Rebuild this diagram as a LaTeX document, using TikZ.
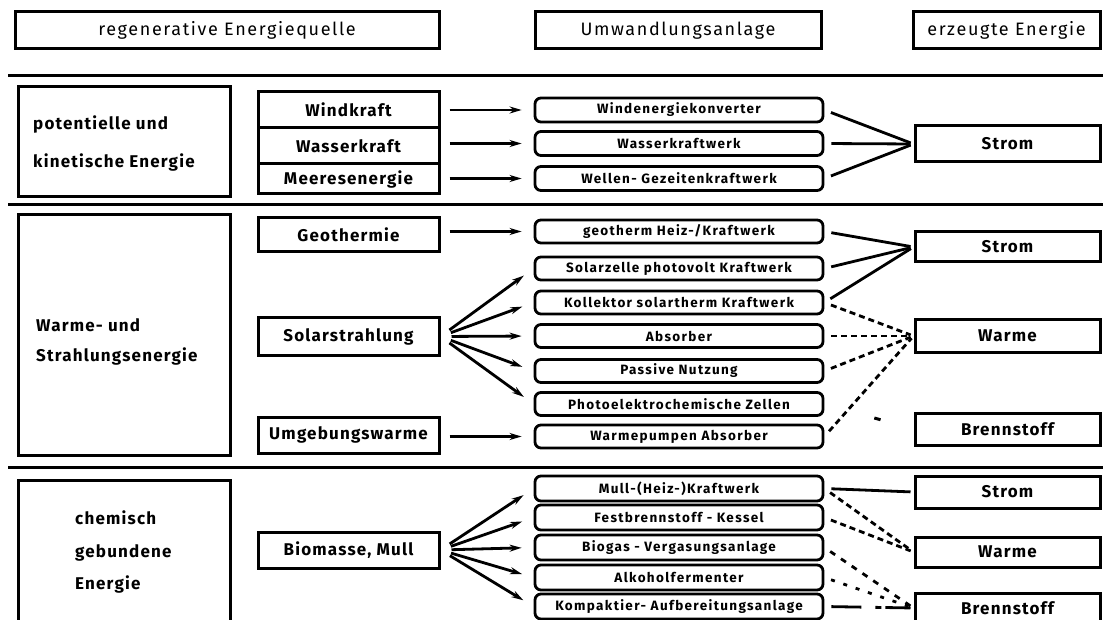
\documentclass[tikz,border=0pt]{standalone}
\usepackage{fontspec}
\setmainfont{Fira Sans}
\newfontfamily\hfont[LetterSpace=9]{Fira Sans}
\newfontfamily\bfont[LetterSpace=7]{Fira Sans}
\newfontfamily\cfont[LetterSpace=10]{Fira Sans}
\usetikzlibrary{arrows.meta,calc}
\begin{document}
\begin{tikzpicture}[x=1pt,y=-1pt,
  hdr/.style={draw, line width=3pt, minimum height=37pt, inner sep=0pt, font=\hfont\fontsize{18}{20}\selectfont},
  bigbox/.style={draw, line width=3pt},
  bigtxt/.style={anchor=base west, inner sep=0pt, font=\bfont\bfseries\fontsize{17}{20}\selectfont},
  srcbox/.style={draw, line width=3pt, inner sep=0pt, minimum width=181pt, font=\bfont\bfseries\fontsize{17}{18}\selectfont},
  conv/.style={draw, rounded corners=6pt, line width=2.8pt, minimum width=288pt, minimum height=23pt, inner sep=0pt, font=\cfont\bfseries\fontsize{13.5}{14}\selectfont},
  outbox/.style={draw, line width=3pt, minimum width=185pt, inner sep=0pt, font=\bfont\bfseries\fontsize{17}{18}\selectfont},
  arr/.style={line width=2.8pt, -{Stealth[length=12pt,width=7pt]}, shorten <=9pt, shorten >=12pt},
  fan/.style={arr, shorten <=11pt},
  link/.style={line width=2.8pt, shorten <=7pt, shorten >=3pt},
  dlink/.style={link, dash pattern=on 6pt off 4pt},
  sep/.style={line width=3pt}
]
\useasboundingbox (0,0) rectangle (1103,620);

% headers
\node[hdr, minimum width=424pt] (h1) at (227,30.5) {regenerative Energiequelle};
\node[hdr, minimum width=286pt] (h2) at (678,30.5) {Umwandlungsanlage};
\node[hdr, minimum width=187pt] (h3) at (1006.5,30.5) {erzeugte Energie};

% separators
\coordinate (s1a) at (8,76);   \coordinate (s1b) at (1103,76);
\coordinate (s2a) at (8,205);  \coordinate (s2b) at (1103,205);
\coordinate (s3a) at (8,467);  \coordinate (s3b) at (1103,467);
\draw[sep] (s1a) -- (s1b);
\draw[sep] (s2a) -- (s2b);
\draw[sep] (s3a) -- (s3b);

% ---------- section 1 ----------
\draw[bigbox] (18,87) rectangle (230,197);
\node[bigtxt] (t1a) at (33,130) {potentielle und};
\node[bigtxt] (t1b) at (33,168) {kinetische Energie};

\node[srcbox, minimum height=36pt] (wind) at (348.5,110) {Windkraft};
\node[srcbox, minimum height=36pt] (wasser) at (348.5,146) {Wasserkraft};
\node[srcbox, minimum height=30pt] (meer) at (348.5,179) {Meeresenergie};

\node[conv, minimum height=24pt] (rwind) at (679,110) {Windenergiekonverter};
\node[conv, minimum height=24pt] (rwasser) at (679,143.5) {Wasserkraftwerk};
\node[conv, minimum height=24pt] (rwellen) at (679,178.5) {Wellen- Gezeitenkraftwerk};

\node[outbox, minimum height=36pt] (strom1) at (1007.5,144) {Strom};

\draw[arr] (wind.east |- rwind.west) -- (rwind.west);
\draw[arr] (wasser.east |- rwasser.west) -- (rwasser.west);
\draw[arr] (meer.east |- rwellen.west) -- (rwellen.west);

\draw[link] (rwind.east) -- (strom1.west);
\draw[link] (rwasser.east) -- (strom1.west);
\draw[link] (rwellen.east) -- (strom1.west);

% ---------- section 2 ----------
\draw[bigbox] (18,215) rectangle (230,455);
\node[bigtxt] (t2a) at (36,331) {Warme- und};
\node[bigtxt] (t2b) at (36,361) {Strahlungsenergie};

\node[srcbox, minimum height=34pt] (geo) at (348.5,235) {Geothermie};
\node[srcbox, minimum height=37pt] (solar) at (348.5,336.5) {Solarstrahlung};
\node[srcbox, minimum height=36pt] (umg) at (348.5,435) {Umgebungswarme};

\node[conv] (rgeo) at (679,231.5) {geotherm Heiz-/Kraftwerk};
\node[conv] (rsz) at (679,268.5) {Solarzelle photovolt Kraftwerk};
\node[conv] (rkol) at (679,302.5) {Kollektor solartherm Kraftwerk};
\node[conv] (rabs) at (679,336) {Absorber};
\node[conv] (rpas) at (679,371) {Passive Nutzung};
\node[conv] (rpho) at (679,404) {Photoelektrochemische Zellen};
\node[conv] (rwp) at (679,436.5) {Warmepumpen Absorber};

\node[outbox, minimum height=30pt] (strom2) at (1007.5,247) {Strom};
\node[outbox, minimum height=32pt] (warme2) at (1007.5,336) {Warme};
\node[outbox, minimum height=32pt] (brenn2) at (1007.5,429) {Brennstoff};

\draw[arr] (geo.east |- rgeo.west) -- (rgeo.west);
\draw[arr] (umg.east |- rwp.west) -- (rwp.west);
\draw[fan] (solar.east) -- (rsz.west);
\draw[fan] (solar.east) -- (rkol.west);
\draw[fan] (solar.east) -- (rabs.west);
\draw[fan] (solar.east) -- (rpas.west);
\draw[fan] (solar.east) -- (rpho.west);

\draw[link] (rgeo.east) -- (strom2.west);
\draw[link] (rsz.east) -- (strom2.west);
\draw[link] (rkol.east) -- (strom2.west);
\draw[dlink] (rkol.east) -- (warme2.west);
\draw[dlink] (rabs.east) -- (warme2.west);
\draw[dlink] (rpas.east) -- (warme2.west);
\draw[dlink] (rwp.east) -- (warme2.west);
\draw[line width=3pt] ($(rpho.east)!0.56!(brenn2.west)$) -- ($(rpho.east)!0.63!(brenn2.west)$);

% ---------- section 3 ----------
\draw[bigbox] (18,480) rectangle (230,630);
\node[bigtxt] (t3a) at (75,524) {chemisch};
\node[bigtxt] (t3b) at (75,557) {gebundene};
\node[bigtxt] (t3c) at (75,589) {Energie};

\node[srcbox, minimum height=36pt] (bio) at (348.5,550) {Biomasse, Mull};

\node[conv, minimum height=25pt] (rmull) at (679,488.5) {Mull-(Heiz-)Kraftwerk};
\node[conv, minimum height=25pt] (rfest) at (679,517.5) {Festbrennstoff - Kessel};
\node[conv, minimum height=25pt] (rbiog) at (679,547.5) {Biogas - Vergasungsanlage};
\node[conv, minimum height=25pt] (ralk) at (679,577.5) {Alkoholfermenter};
\node[conv, minimum height=25pt] (rkomp) at (679,606.5) {Kompaktier- Aufbereitungsanlage};

\node[outbox, minimum height=32pt] (strom3) at (1007.5,492) {Strom};
\node[outbox, minimum height=30pt] (warme3) at (1007.5,552) {Warme};
\node[outbox, minimum height=30pt] (brenn3) at (1007.5,608) {Brennstoff};

\draw[fan] (bio.east) -- (rmull.west);
\draw[fan] (bio.east) -- (rfest.west);
\draw[fan] (bio.east) -- (rbiog.west);
\draw[fan] (bio.east) -- (ralk.west);
\draw[fan] (bio.east) -- (rkomp.west);

\draw[link] (rmull.east) -- (strom3.west);
\draw[dlink] (rmull.east) -- (warme3.west);
\draw[dlink] (rfest.east) -- (warme3.west);
\draw[dlink, dash pattern=on 6pt off 7pt] (rbiog.east) -- (brenn3.west);
\draw[dlink, dash pattern=on 4pt off 9pt] (ralk.east) -- (brenn3.west);
\draw[link, dash pattern=on 30pt off 14pt on 6pt off 4pt] (rkomp.east) -- (brenn3.west);
\end{tikzpicture}
\end{document}
